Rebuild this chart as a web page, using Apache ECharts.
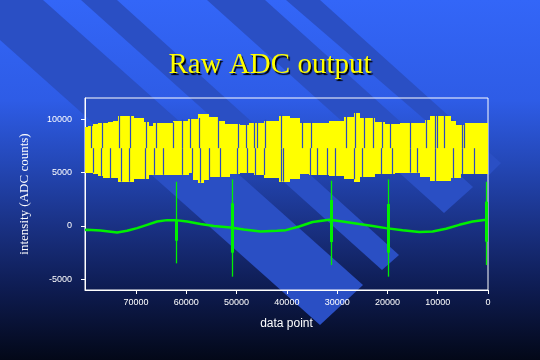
<!DOCTYPE html>
<html><head><meta charset="utf-8">
<script src="https://cdn.jsdelivr.net/npm/echarts@6/dist/echarts.min.js"></script>
<style>html,body{margin:0;padding:0;width:540px;height:360px;overflow:hidden;background:#0a1430}#c{width:540px;height:360px}</style>
</head><body><div id="c"></div>
<script>
const titleText = 'Raw ADC output';
const xName = 'data point';
const yName = 'intensity (ADC counts)';
const xTicks = [0, 10000, 20000, 30000, 40000, 50000, 60000, 70000];
const yTicks = [-5000, 0, 5000, 10000];

// yellow raw signal: per 1000-sample bin, min and max
const bandX = [0,1000,2000,3000,4000,5000,6000,7000,8000,9000,10000,11000,12000,13000,14000,15000,16000,17000,18000,19000,20000,21000,22000,23000,24000,25000,26000,27000,28000,29000,30000,31000,32000,33000,34000,35000,36000,37000,38000,39000,40000,41000,42000,43000,44000,45000,46000,47000,48000,49000,50000,51000,52000,53000,54000,55000,56000,57000,58000,59000,60000,61000,62000,63000,64000,65000,66000,67000,68000,69000,70000,71000,72000,73000,74000,75000,76000,77000,78000,79000,80000];
const bandHigh = [9690,9690,9690,9690,9690,9480,9480,9880,10350,10350,10350,10350,9940,9690,9690,9690,9630,9630,9570,9570,9570,9790,9790,10100,10100,10100,10570,10190,10190,9880,9880,9880,9690,9690,9690,9690,9690,9690,10100,10100,10350,10350,9880,9880,9880,9630,9630,9630,9480,9480,9570,9570,9570,9880,10250,10250,10500,10500,10040,10040,9880,9880,9880,9630,9630,9630,9630,9380,9790,10100,10100,10350,10350,10350,9850,9750,9630,9630,9570,9400,9260];
const bandLow = [4880,4880,4880,4880,4880,4880,4470,4470,4190,4190,4190,4190,4570,4570,5000,5000,5000,5000,4940,4880,4880,4880,4880,4570,4570,4570,4160,4380,4380,4690,4690,4690,4780,4780,4780,4780,4880,4880,4400,4400,4160,4160,4470,4470,4470,4780,4780,4940,4940,4940,4880,4880,4570,4570,4570,4570,4310,4060,4310,4940,4800,4800,4800,4800,4800,4800,4800,4780,4380,4380,4380,4160,4160,4160,4470,4470,4470,4700,4880,5000,5000];
// dark vertical gaps in the yellow band
const upperGaps = [79020,76830,73370,71250,68070,66070,62690,60760,59220,57510,53720,49740,48070,46470,46010,44360,41100,36990,35200,28230,26430,24700,22910,21120,19420,15480,12290,10560,10160,8820,5180,4780];
const lowerGaps = [78620,76950,75100,73050,71450,68270,66330,64680,60890,58960,57310,55520,53330,49860,47870,46270,44560,41230,40780,35400,34000,32010,30420,26690,25100,21250,19120,15600,14080,10500,6970,5180,2850];
const gapUpperEnd = 7300;
const gapLowerStart = 7200;

// green baseline
const greenX = [0,400,3050,5710,8360,11010,13670,16980,20300,22950,25610,28920,31580,34890,37550,40200,41930,45240,48560,51200,54520,57170,59840,62150,63820,65810,67800,69790,71780,73760,77070,79740,80150];
const greenY = [620,580,420,110,-260,-510,-570,-390,-200,0,180,420,580,370,-50,-390,-450,-510,-330,-140,0,180,420,550,550,420,110,-200,-450,-610,-420,-360,-375];

// spikes in the green channel
const spikeX = [62150,51000,31300,19900,350];
const spikeTop = [4150,4370,4250,4370,4150];
const spikeBottom = [-3500,-4750,-3660,-4750,-3660];
const spikeCoreTop = [560,2130,2440,2060,2280];
const spikeCoreBottom = [-1380,-2500,-1500,-2500,-1470];

const chart = echarts.init(document.getElementById('c'), null, {renderer: 'canvas'});

const bandData = bandX.map((x, i) => [x, bandLow[i], bandHigh[i]]);
const gapData = [];
upperGaps.forEach(g => { const i = Math.round(g / 1000); gapData.push([g, gapUpperEnd, bandHigh[i]]); });
lowerGaps.forEach(g => { const i = Math.round(g / 1000); gapData.push([g, bandLow[i], gapLowerStart]); });
const greenData = greenX.map((x, i) => [x, greenY[i]]);
const spikeData = spikeX.map((x, i) => [x, spikeTop[i], spikeBottom[i], spikeCoreTop[i], spikeCoreBottom[i]]);

const stripe = '#2a4fc4';
function poly(points) {
  return {type: 'polygon', shape: {points: points}, style: {fill: stripe}, silent: true, z: -10};
}

chart.setOption({
  animation: false,
  backgroundColor: {type: 'linear', x: 0, y: 0, x2: 0, y2: 1, colorStops: [
    {offset: 0, color: '#3366f8'}, {offset: 0.28, color: '#2e5ce6'}, {offset: 0.45, color: '#2448b8'},
    {offset: 0.62, color: '#1a3286'}, {offset: 0.8, color: '#0e1c52'}, {offset: 1, color: '#030818'}]},
  graphic: [
    poly([[-45,0],[43,0],[363,285],[320,325]]),
    poly([[81,0],[117,0],[399,255],[382,270]]),
    poly([[207,0],[265,0],[473,187],[444,213]]),
    poly([[286,0],[320,0],[501,163],[489,175]])
  ],
  title: {
    text: titleText, left: 'center', top: 46,
    textStyle: {color: '#ffff00', fontFamily: 'Liberation Serif', fontSize: 29, fontWeight: 'normal',
      textShadowColor: '#000000', textShadowOffsetX: 1.5, textShadowOffsetY: 1.5, textShadowBlur: 1}
  },
  grid: {left: 85, right: 52, top: 98, bottom: 70, show: true, borderColor: '#ffffff', borderWidth: 1, backgroundColor: 'transparent'},
  xAxis: {
    type: 'value', inverse: true, min: 0, max: 80150,
    axisLine: {show: true, onZero: false, lineStyle: {color: '#ffffff', width: 1}},
    splitLine: {show: false},
    axisTick: {show: true, length: 4, inside: false, customValues: xTicks, lineStyle: {color: '#ffffff'}},
    axisLabel: {customValues: xTicks, color: '#ffffff', fontSize: 9, fontFamily: 'Liberation Sans', margin: 8, formatter: v => String(v)},
    name: xName, nameLocation: 'middle', nameGap: 28,
    nameTextStyle: {color: '#ffffff', fontSize: 12, fontFamily: 'Liberation Sans'}
  },
  yAxis: {
    type: 'value', min: -6000, max: 12000,
    axisLine: {show: true, onZero: false, lineStyle: {color: '#ffffff', width: 1}},
    splitLine: {show: false},
    axisTick: {show: true, length: 4, inside: false, customValues: yTicks, lineStyle: {color: '#ffffff'}},
    axisLabel: {customValues: yTicks, color: '#ffffff', fontSize: 9, fontFamily: 'Liberation Sans', margin: 13, formatter: v => String(v)},
    name: yName, nameLocation: 'middle', nameGap: 54, nameRotate: 90,
    nameTextStyle: {color: '#ffffff', fontSize: 13, fontFamily: 'Liberation Serif'}
  },
  series: [
    {
      type: 'custom', name: 'raw', data: bandData, z: 2,
      renderItem: function (params, api) {
        const d = api.value(0), lo = api.value(1), hi = api.value(2);
        const a = api.coord([d - 500, hi]);
        const b = api.coord([d + 500, lo]);
        const cs = params.coordSys;
        let x0 = Math.floor(Math.min(a[0], b[0]));
        let x1 = Math.ceil(Math.max(a[0], b[0]));
        x0 = Math.max(x0, cs.x); x1 = Math.min(x1, cs.x + cs.width);
        return {type: 'rect', shape: {x: x0, y: Math.round(a[1]), width: x1 - x0, height: Math.round(b[1]) - Math.round(a[1])},
          style: {fill: '#ffff00'}};
      }
    },
    {
      type: 'custom', name: 'gaps', data: gapData, z: 3,
      renderItem: function (params, api) {
        const p1 = api.coord([api.value(0), api.value(1)]);
        const p2 = api.coord([api.value(0), api.value(2)]);
        const x = Math.round(p1[0]) + 0.5;
        return {type: 'line', shape: {x1: x, y1: p1[1], x2: x, y2: p2[1] - 1}, style: {stroke: '#2b4cc0', lineWidth: 1.2}};
      }
    },
    {
      type: 'line', name: 'baseline', data: greenData, z: 4, showSymbol: false, symbol: 'none',
      lineStyle: {color: '#00f000', width: 2.5}
    },
    {
      type: 'custom', name: 'spikes', data: spikeData, z: 5,
      renderItem: function (params, api) {
        const d = api.value(0);
        const t = api.coord([d, api.value(1)]), b = api.coord([d, api.value(2)]);
        const ct = api.coord([d, api.value(3)]), cb = api.coord([d, api.value(4)]);
        const x = Math.round(t[0]) + 0.5;
        return {type: 'group', children: [
          {type: 'line', shape: {x1: x, y1: t[1], x2: x, y2: b[1]}, style: {stroke: '#00f000', lineWidth: 1.3}},
          {type: 'line', shape: {x1: x, y1: ct[1], x2: x, y2: cb[1]}, style: {stroke: '#00f000', lineWidth: 3}}
        ]};
      }
    }
  ]
});
</script></body></html>
